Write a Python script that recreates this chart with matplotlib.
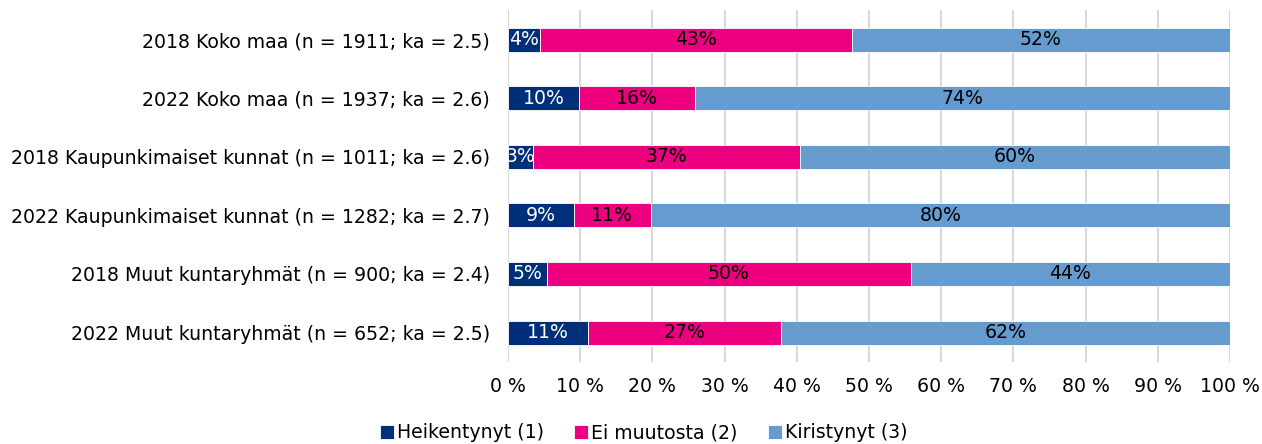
import numpy as np
import matplotlib.pyplot as plt

categories = [
    "2018 Koko maa (n = 1911; ka = 2.5)",
    "2022 Koko maa (n = 1937; ka = 2.6)",
    "2018 Kaupunkimaiset kunnat (n = 1011; ka = 2.6)",
    "2022 Kaupunkimaiset kunnat (n = 1282; ka = 2.7)",
    "2018 Muut kuntaryhmät (n = 900; ka = 2.4)",
    "2022 Muut kuntaryhmät (n = 652; ka = 2.5)",
]
series_names = ["Heikentynyt (1)", "Ei muutosta (2)", "Kiristynyt (3)"]
heikentynyt = [4.4, 9.8, 3.4, 9.1, 5.4, 11.1]
ei_muutosta = [43.2, 16.1, 37.0, 10.7, 50.4, 26.7]
kiristynyt = [52.4, 74.1, 59.6, 80.2, 44.2, 62.2]
xticks = np.arange(0, 101, 10)

colors = ["#002f7a", "#ec0080", "#659bcf"]
text_colors = ["white", "black", "black"]
fs = 13.6

plt.rcParams['font.family'] = ['DejaVu Sans']

fig = plt.figure(figsize=(12.62, 4.44), dpi=100)
ax = fig.add_axes([0.4025, 0.185, 0.5722, 0.792])

y = np.arange(len(categories))
left = np.zeros(len(categories))
for vals, name, col, tcol in zip([heikentynyt, ei_muutosta, kiristynyt],
                                 series_names, colors, text_colors):
    vals = np.array(vals)
    bars = ax.barh(y, vals, left=left, height=0.41, color=col,
                   edgecolor='white', linewidth=0.6, label=name, zorder=3)
    ax.bar_label(bars, labels=[f"{round(v):.0f}%" for v in vals],
                 label_type='center', color=tcol, fontsize=fs)
    left += vals

ax.set_ylim(len(categories) - 0.5, -0.5)
ax.set_xlim(0, 100)
ax.set_yticks(y)
ax.set_yticklabels(categories, fontsize=fs)
ax.set_xticks(xticks)
ax.set_xticklabels([f"{t} %" for t in xticks], fontsize=fs)
ax.xaxis.grid(True, color='#d9d9d9', linewidth=1.5, zorder=0)
ax.tick_params(axis='y', length=0, pad=13)
ax.tick_params(axis='x', length=0, pad=11)
for s in ax.spines.values():
    s.set_visible(False)

handles, labels = ax.get_legend_handles_labels()
fig.legend(handles, labels, loc='center', bbox_to_anchor=(0.51, 0.025),
           ncol=3, frameon=False, fontsize=fs, handlelength=0.75,
           handleheight=0.75, handletextpad=0.15, columnspacing=1.6)

fig.savefig("out.png", dpi=100)
